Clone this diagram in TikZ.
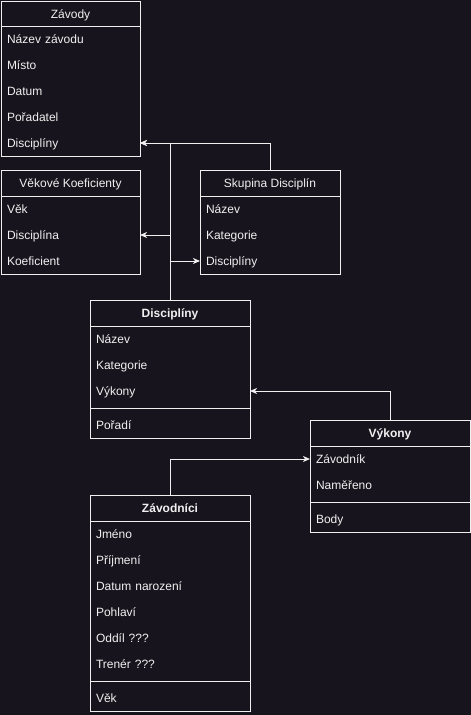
\documentclass[tikz,border=0pt]{standalone}
\usepackage{fontspec}
\setmainfont{Liberation Sans}
\usetikzlibrary{arrows.meta}
\definecolor{canvas}{HTML}{18141D}
\definecolor{ink}{HTML}{F0F0F0}
\begin{document}
\begin{tikzpicture}[x=1pt,y=-1pt,
  ent/.style={draw=ink, fill=canvas, line width=1pt, outer sep=0pt, inner sep=0pt, anchor=north west},
  hdr/.style={text=ink, font=\fontsize{12}{14}\selectfont, inner sep=0pt, text height=9.5pt, text depth=0.5pt},
  bhdr/.style={hdr, font=\fontsize{12}{14}\selectfont\bfseries},
  row/.style={text=ink, font=\fontsize{12}{14}\selectfont, inner xsep=6pt, inner ysep=0pt,
    minimum height=26pt, align=left, text height=9.5pt, text depth=0.5pt, outer sep=0pt},
  rule/.style={draw=ink, line width=1pt},
  link/.style={draw=ink, line width=1pt, -{Stealth[length=7pt,width=6pt,inset=2pt]}}]
  \fill[canvas] (0,0) rectangle (471,715);
  \useasboundingbox (0,0) rectangle (471,715);

  % Závody
  \node[ent, minimum width=139pt, minimum height=155pt] (zav) at (1,1) {};
  \node[hdr] at (70.5,13.5) {Závody};
  \draw[rule] (1,26) -- (140,26);
  \foreach \t [count=\i] in {Název závodu, Místo, Datum, Pořadatel, Disciplíny}
    \node[row, text width=127pt] (zav-\i) at (70.5,13+26*\i) {\t};

  % Věkové Koeficienty
  \node[ent, minimum width=139pt, minimum height=104pt] (vk) at (1,170) {};
  \node[hdr] at (70.5,183) {Věkové Koeficienty};
  \draw[rule] (1,196) -- (140,196);
  \foreach \t [count=\i] in {Věk, Disciplína, Koeficient}
    \node[row, text width=127pt] (vk-\i) at (70.5,183+26*\i) {\t};

  % Skupina Disciplín
  \node[ent, minimum width=140pt, minimum height=104pt] (sk) at (200,170) {};
  \node[hdr] at (270,183) {Skupina Disciplín};
  \draw[rule] (200,196) -- (340,196);
  \foreach \t [count=\i] in {Název, Kategorie, Disciplíny}
    \node[row, text width=128pt] (sk-\i) at (270,183+26*\i) {\t};

  % Disciplíny
  \node[ent, minimum width=160pt, minimum height=138pt] (disc) at (90,300) {};
  \node[bhdr] at (170,313) {Disciplíny};
  \draw[rule] (90,326) -- (250,326);
  \foreach \t [count=\i] in {Název, Kategorie, Výkony}
    \node[row, text width=148pt] (disc-\i) at (170,313+26*\i) {\t};
  \draw[rule] (90,408) -- (250,408);
  \node[row, text width=148pt] (disc-4) at (170,425) {Pořadí};

  % Výkony
  \node[ent, minimum width=160pt, minimum height=112pt] (vy) at (310,420) {};
  \node[bhdr] at (390,433) {Výkony};
  \draw[rule] (310,446) -- (470,446);
  \foreach \t [count=\i] in {Závodník, Naměřeno}
    \node[row, text width=148pt] (vy-\i) at (390,433+26*\i) {\t};
  \draw[rule] (310,502) -- (470,502);
  \node[row, text width=148pt] (vy-3) at (390,519) {Body};

  % Závodníci
  \node[ent, minimum width=160pt, minimum height=216pt] (zd) at (90,495) {};
  \node[bhdr] at (170,508) {Závodníci};
  \draw[rule] (90,521) -- (250,521);
  \foreach \t [count=\i] in {Jméno, Příjmení, Datum narození, Pohlaví, Oddíl ???, Trenér ???}
    \node[row, text width=148pt] (zd-\i) at (170,508+26*\i) {\t};
  \draw[rule] (90,681) -- (250,681);
  \node[row, text width=148pt] (zd-7) at (170,698) {Věk};

  % Relations
  \draw[link] (disc.north) |- (zav-5.east);
  \draw[link] (disc.north) |- (vk-2.east);
  \draw[link] (disc.north) |- (sk-3.west);
  \draw[link] (sk.north) |- (zav-5.east);
  \draw[link] (vy.north) |- (disc-3.east);
  \draw[link] (zd.north) |- (vy-1.west);
\end{tikzpicture}
\end{document}
